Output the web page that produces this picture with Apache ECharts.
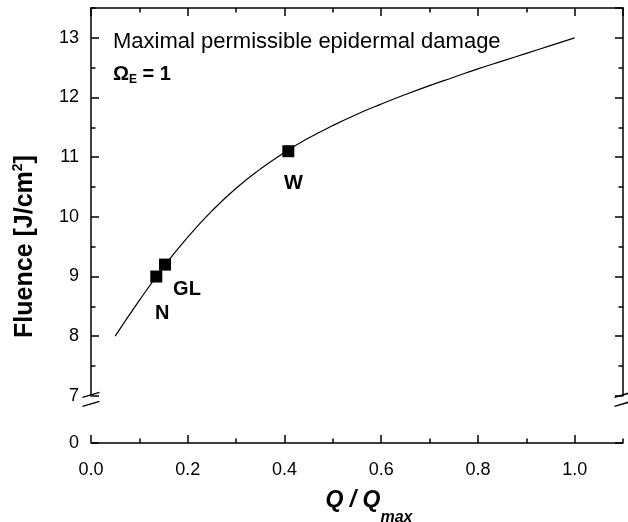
<!DOCTYPE html>
<html><head><meta charset="utf-8">
<script src="https://cdn.jsdelivr.net/npm/echarts@6/dist/echarts.min.js"></script>
<style>html,body{margin:0;padding:0;background:#fff}#c{width:628px;height:522px}</style>
</head><body><div id="c"></div>
<script>
// ---- data ----
const curveX = [0.05, 0.1, 0.15, 0.2, 0.25, 0.3, 0.35, 0.4, 0.45, 0.5, 0.55, 0.6, 0.65, 0.7, 0.75, 0.8, 0.85, 0.9, 0.95, 1.0];
const curveY = [8.0, 8.6, 9.16, 9.66, 10.1, 10.48, 10.8, 11.08, 11.32, 11.53, 11.72, 11.89, 12.05, 12.2, 12.34, 12.48, 12.61, 12.74, 12.87, 13.0];
const pointNames = ['N', 'GL', 'W'];
const pointX = [0.135, 0.153, 0.408];
const pointY = [9.0, 9.2, 11.1];
const yTickLabels = ['0', '7', '8', '9', '10', '11', '12', '13'];
const xTickLabels = ['0.0', '0.2', '0.4', '0.6', '0.8', '1.0'];
const annotationLine1 = 'Maximal permissible epidermal damage';

// ---- styling ----
const FONT = '"Liberation Sans", Arial, sans-serif';
const labelOffsets = { N: [6, 37], GL: [22, 25], W: [5, 32] };
const AX = '#000';
const yBreaks = [{ start: 0, end: 7, gap: 0.79 }];

function xAxisDef(pos, interval, tickLen, major) {
  return {
    type: 'value', min: 0, max: 1.1, interval: interval, position: pos,
    axisLine: { show: major, onZero: false, lineStyle: { color: AX, width: 1.5 } },
    axisTick: { show: true, inside: true, length: tickLen, lineStyle: { color: AX, width: 1.5 } },
    axisLabel: {
      show: major && pos === 'bottom', color: '#000', fontSize: 18, fontFamily: FONT, margin: 18,
      showMaxLabel: false,
      formatter: v => { const s = v.toFixed(1); return xTickLabels.includes(s) ? s : ''; }
    },
    splitLine: { show: false }
  };
}
function yAxisDef(pos, interval, tickLen, major) {
  return {
    type: 'value', min: 0, max: 13.5, interval: interval, position: pos,
    breaks: yBreaks,
    breakArea: { show: false },
    axisLine: { show: major, onZero: false, lineStyle: { color: AX, width: 1.5 } },
    axisTick: { show: true, inside: true, length: tickLen, lineStyle: { color: AX, width: 1.5 } },
    axisLabel: {
      show: major && pos === 'left', color: '#000', fontSize: 18, fontFamily: FONT, margin: 12,
      showMaxLabel: false,
      formatter: v => { const s = String(Math.round(v)); return (Math.abs(v - Math.round(v)) < 1e-6 && yTickLabels.includes(s)) ? s : ''; }
    },
    splitLine: { show: false }
  };
}

const xAxes = [
  xAxisDef('bottom', 0.2, 8, true),
  xAxisDef('bottom', 0.1, 4.5, false),
  xAxisDef('top', 0.2, 8, true),
  xAxisDef('top', 0.1, 4.5, false)
];
Object.assign(xAxes[0], {
  name: '{q|Q / Q}{s|max}', nameLocation: 'middle', nameGap: 33,
  nameTextStyle: {
    padding: [0, 0, 0, 24],
    rich: {
      q: { fontSize: 23, fontWeight: 'bold', fontStyle: 'italic', fontFamily: FONT, color: '#000', lineHeight: 50 },
      s: { fontSize: 16, fontWeight: 'bold', fontStyle: 'italic', fontFamily: FONT, color: '#000', lineHeight: 16, verticalAlign: 'bottom' }
    }
  }
});
const yAxes = [
  yAxisDef('left', 1, 8, true),
  yAxisDef('left', 0.5, 4.5, false),
  yAxisDef('right', 1, 8, true),
  yAxisDef('right', 0.5, 4.5, false)
];
Object.assign(yAxes[0], {
  name: '{a|Fluence [J/cm}{b|2}{a|]}', nameLocation: 'middle', nameGap: 52,
  nameTextStyle: {
    padding: [0, 42, 0, 0],
    rich: {
      a: { fontSize: 25, fontWeight: 'bold', fontFamily: FONT, color: '#000', lineHeight: 28 },
      b: { fontSize: 14, fontWeight: 'bold', fontFamily: FONT, color: '#000', lineHeight: 14, verticalAlign: 'top' }
    }
  }
});

const chart = echarts.init(document.getElementById('c'), null, { renderer: 'canvas' });
chart.setOption({
  animation: false,
  backgroundColor: '#fff',
  grid: { left: 91, right: 5, top: 8, bottom: 79, containLabel: false, outerBoundsMode: 'none' },
  xAxis: xAxes,
  yAxis: yAxes,
  series: [
    {
      type: 'line', xAxisIndex: 0, yAxisIndex: 0, smooth: 0.5, showSymbol: false,
      data: curveX.map((x, i) => [x, curveY[i]]),
      lineStyle: { color: '#000', width: 1.2 }, itemStyle: { color: '#000' }, z: 3
    },
    {
      type: 'scatter', xAxisIndex: 0, yAxisIndex: 0, symbol: 'rect', symbolSize: 12,
      itemStyle: { color: '#000', opacity: 1 }, z: 4,
      data: pointNames.map((n, i) => ({
        name: n, value: [pointX[i], pointY[i]],
        label: {
          show: true, position: 'inside', offset: labelOffsets[n], formatter: n,
          color: '#000', fontSize: 20, fontWeight: 'bold', fontFamily: FONT
        }
      }))
    }
  ]
});

// break marks and annotations
const y7 = chart.convertToPixel({ yAxisIndex: 0 }, 7);
const xL = chart.convertToPixel({ xAxisIndex: 0 }, 0);
const xR = chart.convertToPixel({ xAxisIndex: 0 }, 1.1);
const yc = y7 + 3.5;
function breakMark(x) {
  return [
    { type: 'rect', z: 100, shape: { x: x - 3, y: yc - 2.5, width: 6, height: 5 }, style: { fill: '#fff' } },
    { type: 'line', z: 101, shape: { x1: x - 8.5, y1: yc - 2, x2: x + 8.5, y2: yc - 7 }, style: { stroke: '#000', lineWidth: 1.5 } },
    { type: 'line', z: 101, shape: { x1: x - 8.5, y1: yc + 7, x2: x + 8.5, y2: yc + 2 }, style: { stroke: '#000', lineWidth: 1.5 } }
  ];
}
chart.setOption({
  graphic: [
    ...breakMark(xL), ...breakMark(xR),
    { type: 'text', z: 100, x: 113, y: 41.5, style: { text: annotationLine1, font: '22px ' + FONT, fill: '#000', verticalAlign: 'middle' } },
    { type: 'text', z: 100, x: 113, y: 74, style: {
        text: '{a|Ω}{b|E}{a| = 1}', verticalAlign: 'middle', fill: '#000',
        rich: {
          a: { fontSize: 20, fontWeight: 'bold', fontFamily: FONT, fill: '#000', lineHeight: 24 },
          b: { fontSize: 12, fontWeight: 'bold', fontFamily: FONT, fill: '#000', lineHeight: 12, verticalAlign: 'bottom' }
        } } }
  ]
});
</script></body></html>
